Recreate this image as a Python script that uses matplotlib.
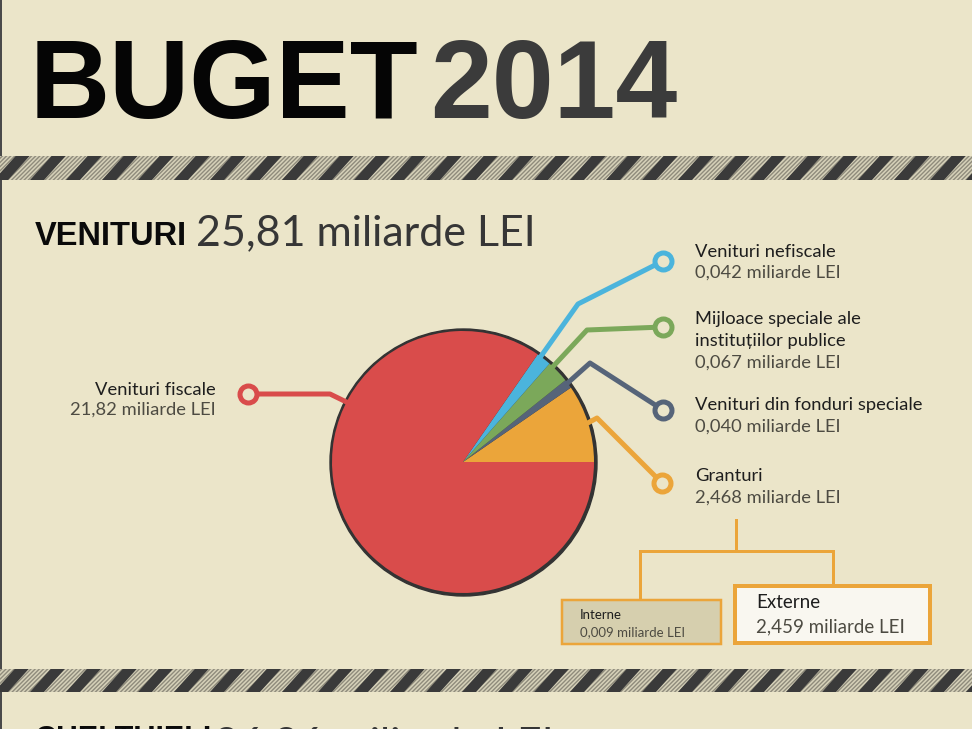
import numpy as np
import matplotlib.pyplot as plt
from matplotlib.patches import Rectangle, Polygon, Circle

###############################################################################
# Data (miliarde LEI, as printed on the infographic)
# ---------------------------------------------------
total_venituri = "25,81"
categories = ["Granturi", "Venituri din fonduri speciale",
              "Mijloace speciale ale\ninstituțiilor publice",
              "Venituri nefiscale", "Venituri fiscale"]
values_txt = ["2,468", "0,040", "0,067", "0,042", "21,82"]
# slice sizes as drawn in the picture (the tiny slices are enlarged there)
slice_sizes = [2.48, 0.29, 0.72, 0.47, 21.85]
colors = ["#eba53a", "#566479", "#7ba85a", "#4bb4dc", "#d94c4b"]

granturi_split = ["Interne", "Externe"]
granturi_split_txt = ["0,009", "2,459"]

###############################################################################
# Layout helpers (pixel coordinates, origin top-left)
# ---------------------------------------------------
W, H = 972, 729
BG = "#ebe5c9"
DARK = "#363636"


def Y(y):
    return H - y


fig = plt.figure(figsize=(W / 100, H / 100), dpi=100, facecolor=BG)
ax = fig.add_axes([0, 0, 1, 1])
ax.set_facecolor(BG)

px = 0.72  # points per pixel at dpi 100
head_font = ["Liberation Sans", "DejaVu Sans"]
label_font = ["Lato", "DejaVu Sans"]

# left border line
ax.plot([1, 1], [Y(0), Y(729)], color="#4a4a4a", lw=2 * px)

# title
ax.text(30, Y(118), "BUGET", fontsize=80, fontweight="bold", color="#050505",
        family=head_font, va="baseline", ha="left")
ax.text(430, Y(118), "2014", fontsize=80, fontweight="bold", color="#3b3b3b",
        family=head_font, va="baseline", ha="left")


# striped bands
def band(y0, y1):
    ax.add_patch(Rectangle((0, Y(y1)), W, y1 - y0, facecolor="#d6d1b9",
                           edgecolor="#8f8b7c", lw=0, hatch="////////", zorder=2))
    h = y1 - y0
    for k in range(-2, 30):
        x0 = k * 36 - 6
        ax.add_patch(Polygon([(x0, Y(y1)), (x0 + 14, Y(y1)),
                              (x0 + 14 + h * 0.9, Y(y0)), (x0 + h * 0.9, Y(y0))],
                             closed=True, facecolor="#3a3a3a", lw=0, zorder=3))


band(156, 180)
band(669, 692)

# section headers
ax.text(35, Y(245), "VENITURI", fontsize=23.5, fontweight="bold", color="#0a0a0a",
        family=head_font, va="baseline")
ax.text(196, Y(245), total_venituri + " miliarde LEI", fontsize=31,
        fontweight="normal", color=DARK, family=label_font, va="baseline")
ax.text(35, Y(748), "CHELTUIELI", fontsize=22, fontweight="bold", color="#0a0a0a",
        family=head_font, va="baseline")
ax.text(214, Y(757), "26,26 miliarde LEI", fontsize=31, fontweight="normal",
        color=DARK, family=label_font, va="baseline")

###############################################################################
# Pie
# ---
cx, cy, r = 463, 462, 131
ax.add_patch(Circle((cx + 0.5, Y(cy + 0.5)), r + 2.5, color="#333333", zorder=4))
wedges, _ = ax.pie(slice_sizes, colors=colors, startangle=0, counterclock=True,
                   center=(cx, Y(cy)), radius=r, wedgeprops=dict(lw=0))
for w in wedges:
    w.set_zorder(5)

# leader layout: fraction along wedge, elbow, ring, label x, line centres
leaders = [
    (0.5, (597, 418), (662, 483), 695, [476, 498]),
    (0.6, (590, 363), (663, 410), 695, [405, 427]),
    (0.8, (587, 330), (663, 327), 695, [319, 341, 363]),
    (0.75, (578, 304), (663, 261), 695, [252, 273]),
    (0.32, (330, 394), (248, 394), 216, [390, 410]),
]
cum = np.concatenate([[0], np.cumsum(slice_sizes)]) / np.sum(slice_sizes) * 360
for i, (frac, elbow, ring, tx, ys) in enumerate(leaders):
    a = np.deg2rad(cum[i] + frac * (cum[i + 1] - cum[i]))
    sx, sy = cx + (r - 1) * np.cos(a), Y(cy) + (r - 1) * np.sin(a)
    ax.plot([sx, elbow[0], ring[0]], [sy, Y(elbow[1]), Y(ring[1])],
            color=colors[i], lw=5 * px, solid_capstyle="butt", zorder=6)
    ax.plot(ring[0], Y(ring[1]), "o", ms=17 * px, mew=5 * px, mec=colors[i],
            mfc=BG, zorder=7)
    lines = categories[i].split("\n")
    ha = "left" if tx > cx else "right"
    for j, line in enumerate(lines):
        ax.text(tx, Y(ys[j]), line, fontsize=13.2, color="#1e1e1e", ha=ha,
                va="center", family=label_font)
    ax.text(tx, Y(ys[-1]), values_txt[i] + " miliarde LEI", fontsize=13.2,
            color="#4d4b42", ha=ha, va="center", family=label_font)

###############################################################################
# Granturi split
# --------------
OR = colors[0]
ax.plot([736, 736], [Y(520), Y(551)], color=OR, lw=3 * px)
ax.plot([640, 833], [Y(551), Y(551)], color=OR, lw=3 * px)
ax.plot([640, 640], [Y(551), Y(600)], color=OR, lw=3 * px)
ax.plot([833, 833], [Y(551), Y(586)], color=OR, lw=3 * px)
ax.add_patch(Rectangle((562, Y(644)), 159, 44, facecolor="#d6cfae", edgecolor=OR,
                       lw=2.5 * px, zorder=5))
ax.add_patch(Rectangle((735, Y(643)), 195, 57, facecolor="#f9f7f0", edgecolor=OR,
                       lw=4 * px, zorder=5))
ax.text(580, Y(615), granturi_split[0], fontsize=9.5, color="#1e1e1e", va="center",
        family=label_font, zorder=6)
ax.text(580, Y(632), granturi_split_txt[0] + " miliarde LEI", fontsize=9.5,
        color="#4d4b42", va="center", family=label_font, zorder=6)
ax.text(756, Y(602), granturi_split[1], fontsize=13.5, color="#1e1e1e", va="center",
        family=label_font, zorder=6)
ax.text(756, Y(627), granturi_split_txt[1] + " miliarde LEI", fontsize=13.5,
        color="#4d4b42", va="center", family=label_font, zorder=6)

ax.set_xlim(0, W)
ax.set_ylim(0, H)
ax.set_aspect("auto")
ax.axis("off")

fig.savefig("out.png", dpi=100, facecolor=BG)
